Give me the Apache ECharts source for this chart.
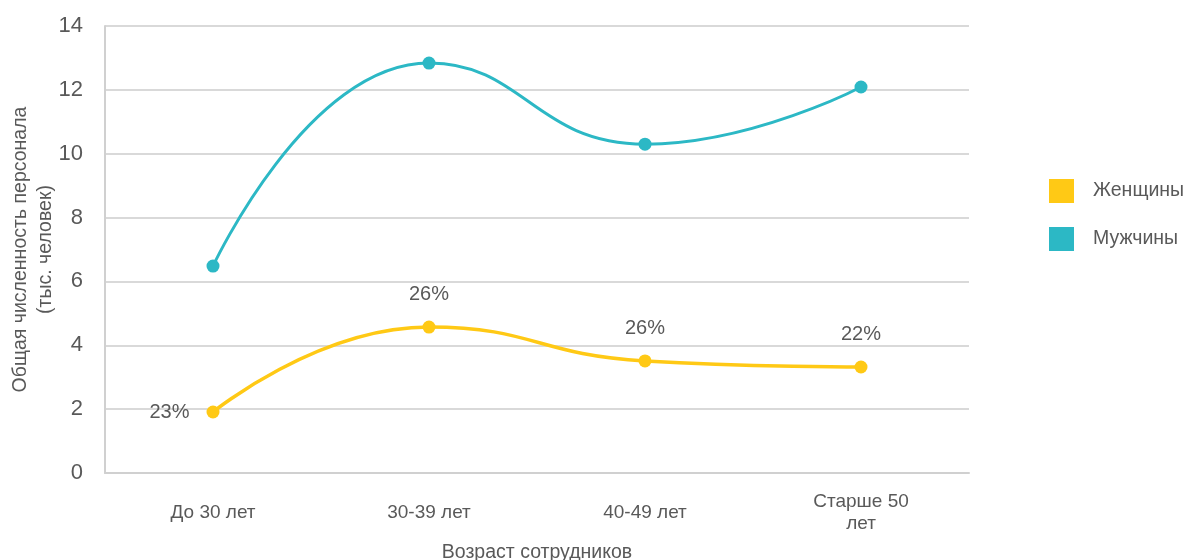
<!DOCTYPE html>
<html>
<head>
<meta charset="utf-8">
<script src="https://cdn.jsdelivr.net/npm/echarts@6/dist/echarts.min.js"></script>
<style>
  html, body { margin: 0; padding: 0; background: #ffffff; }
  #chart { width: 1187px; height: 560px; }
</style>
</head>
<body>
<div id="chart"></div>
<script>
// Age groups on the horizontal axis
const categories = ['До 30 лет', '30-39 лет', '40-49 лет', 'Старше 50\nлет'];
// Headcount, thousands of people
const women = [1.91, 4.57, 3.51, 3.32];
const men = [6.48, 12.84, 10.30, 12.09];
// Share of women in each age group
const womenShare = ['23%', '26%', '26%', '22%'];
const yTicks = [0, 2, 4, 6, 8, 10, 12, 14];

const axisFont = "'Liberation Sans', Arial, sans-serif";
const textColor = '#595959';

// First share label sits to the left of its point, the rest above
const womenData = women.map(function (v, i) {
  if (i === 0) {
    return { value: v, label: { position: 'left', distance: 17 } };
  }
  return { value: v };
});

const chart = echarts.init(document.getElementById('chart'), null, { renderer: 'canvas' });

chart.setOption({
  animation: false,
  grid: { left: 105, right: 218, top: 26, bottom: 87, containLabel: false, outerBoundsMode: 'none' },
  legend: {
    orient: 'vertical',
    left: 1044,
    top: 174,
    itemWidth: 25,
    itemHeight: 24,
    itemGap: 24,
    icon: 'rect',
    textStyle: { fontFamily: axisFont, fontSize: 19.5, color: textColor, padding: [0, 0, 0, 14] },
    data: ['Женщины', 'Мужчины']
  },
  xAxis: {
    type: 'category',
    data: categories,
    boundaryGap: true,
    name: 'Возраст сотрудников',
    nameLocation: 'middle',
    nameGap: 70,
    nameMoveOverlap: false,
    nameTextStyle: { fontFamily: axisFont, fontSize: 19.5, color: textColor },
    axisLine: { show: true, lineStyle: { color: '#d0d0d0', width: 2 } },
    axisTick: { show: false },
    axisLabel: {
      fontFamily: axisFont, fontSize: 19, color: textColor, margin: 40, lineHeight: 22,
      verticalAlign: 'middle'
    }
  },
  yAxis: {
    type: 'value',
    min: 0,
    max: 14,
    interval: 2,
    name: 'Общая численность персонала\n(тыс. человек)',
    nameLocation: 'middle',
    nameGap: 47,
    nameRotate: 90,
    nameMoveOverlap: false,
    nameTextStyle: { fontFamily: axisFont, fontSize: 19.5, color: textColor, lineHeight: 25 },
    axisLine: { show: true, lineStyle: { color: '#d0d0d0', width: 2 } },
    axisTick: { show: false },
    splitLine: { show: true, lineStyle: { color: '#d9d9d9', width: 2 } },
    axisLabel: {
      fontFamily: axisFont, fontSize: 22, color: textColor, margin: 22,
      formatter: function (v) { return yTicks.indexOf(v) >= 0 ? String(v) : ''; }
    }
  },
  series: [
    {
      name: 'Женщины',
      type: 'line',
      data: womenData,
      smooth: 0.5,
      symbol: 'circle',
      symbolSize: 13,
      itemStyle: { color: '#ffc915' },
      lineStyle: { color: '#ffc915', width: 3.5 },
      label: {
        show: true,
        position: 'top',
        distance: 16,
        fontFamily: axisFont,
        fontSize: 20,
        color: textColor,
        formatter: function (p) { return womenShare[p.dataIndex]; }
      }
    },
    {
      name: 'Мужчины',
      type: 'line',
      data: men,
      smooth: 0.5,
      symbol: 'circle',
      symbolSize: 13,
      itemStyle: { color: '#2cb8c5' },
      lineStyle: { color: '#2cb8c5', width: 3 }
    }
  ]
});
</script>
</body>
</html>
